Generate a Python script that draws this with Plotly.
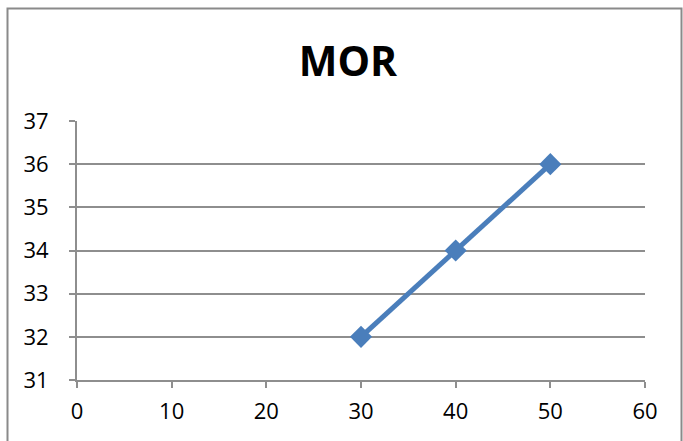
import plotly.graph_objects as go

title_text = "MOR"
x_values = [30, 40, 50]
y_values = [32, 34, 36]
x_ticks = [0, 10, 20, 30, 40, 50, 60]
y_ticks = [31, 32, 33, 34, 35, 36, 37]

line_color = "#4a7ebb"
grid_color = "#8e8e8e"
font_family = "Open Sans, Noto Sans, Liberation Sans, sans-serif"

fig = go.Figure()
fig.add_trace(go.Scatter(
    x=x_values, y=y_values, mode="lines+markers",
    line=dict(color=line_color, width=5),
    marker=dict(symbol="diamond", size=17, color=line_color),
    showlegend=False, hoverinfo="x+y",
))

axis_common = dict(
    showline=True, linecolor=grid_color, linewidth=2,
    ticks="outside", ticklen=6, tickcolor=grid_color, tickwidth=2,
    tickfont=dict(family=font_family, size=22, color="#000000"),
    zeroline=False,
)

fig.update_xaxes(range=[0, 60], tickvals=x_ticks, showgrid=False,
                 ticklabelstandoff=5, **axis_common)
fig.update_yaxes(range=[31, 37], tickvals=y_ticks, showgrid=True,
                 gridcolor=grid_color, gridwidth=2,
                 ticklabelstandoff=16, **axis_common)

W, H = 683, 441
ml, mr, mt, mb = 77, 38, 121, 61
pw, ph = W - ml - mr, H - mt - mb

def px_x(p):
    return (p - ml) / pw

def px_y(p):
    return (H - mb - p) / ph

fig.add_shape(type="rect", xref="paper", yref="paper",
              x0=px_x(7.5), x1=px_x(681.5), y0=px_y(460), y1=px_y(8.5),
              line=dict(color="#8a8a8a", width=2), fillcolor="rgba(0,0,0,0)",
              layer="below")

fig.update_layout(
    width=W, height=H,
    margin=dict(l=ml, r=mr, t=mt, b=mb),
    paper_bgcolor="white", plot_bgcolor="white",
    title=dict(text="<b>" + title_text + "</b>", x=px_x(348), xanchor="center",
               xref="paper", y=1 - 62 / H, yanchor="middle",
               font=dict(family=font_family, size=41, color="#000000")),
    font=dict(family=font_family),
)

fig.write_html("out.html", config={"displayModeBar": False},
               post_script="document.body.style.margin='0';document.body.style.padding='0';")
